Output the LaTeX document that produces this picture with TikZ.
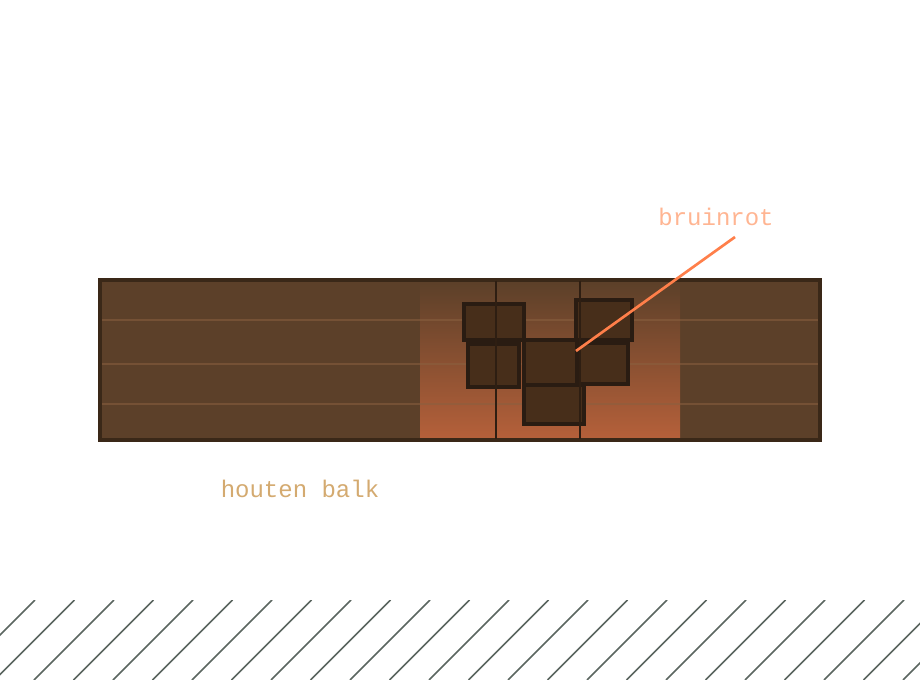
\documentclass[tikz,border=0pt]{standalone}
\usepackage{fontspec}
\setmonofont{Liberation Mono}
\definecolor{beamfill}{HTML}{5C4029}
\definecolor{beamedge}{HTML}{3A2818}
\definecolor{grain}{HTML}{8A6040}
\definecolor{rottop}{HTML}{5C4029}
\definecolor{rotbot}{HTML}{B5603A}
\definecolor{knotfill}{HTML}{472E1A}
\definecolor{knotedge}{HTML}{2A1C12}
\definecolor{crack}{HTML}{2E1E12}
\definecolor{leader}{HTML}{FF7F4A}
\definecolor{rotlabel}{HTML}{FFB592}
\definecolor{beamlabel}{HTML}{D4AA70}
\definecolor{hatch}{HTML}{5B6660}
\tikzset{
  knot/.style={draw=knotedge, fill=knotfill, line width=3pt},
  grainline/.style={draw=grain, opacity=0.55, line width=1.5pt},
  crackline/.style={draw=crack, line width=2pt},
  lbl/.style={font=\ttfamily\fontsize{18}{20}\selectfont, inner sep=0pt},
}
\begin{document}
\begin{tikzpicture}[x=0.75pt, y=-0.75pt]
\useasboundingbox (0,0) rectangle (920,680);
\fill[white] (0,0) rectangle (920,680);
% beam
\fill[beamfill] (100,280) rectangle (820,440);
% rotten zone gradient
\shade[top color=rottop, bottom color=rotbot] (420,282) rectangle (680,438);
% grain
\foreach \yy in {320,364,404} \draw[grainline] (100,\yy) -- (820,\yy);
\draw[beamedge, line width=3pt] (100,280) rectangle (820,440);
% cubes of brown rot
\draw[knot] (468,344) rectangle (519,387);
\draw[knot] (579,343) rectangle (628,384);
\draw[knot] (524,340) rectangle (577,385);
\draw[knot] (524,385) rectangle (584,424);
\draw[knot] (464,304) rectangle (524,340);
\draw[knot] (576,300) rectangle (632,340);
% cracks
\draw[crackline] (496,281) -- (496,439);
\draw[crackline] (580,281) -- (580,439);
% labels
\node[lbl, text=rotlabel] (rot) at (716,217) {bruinrot};
\coordinate (rotstart) at (735,237);
\coordinate (rotend) at (576,351);
\draw[leader, line width=2pt] (rotstart) -- (rotend);
\node[lbl, text=beamlabel] (balk) at (300,489) {houten balk};
% ground hatching
\begin{scope}
\clip (0,600) rectangle (920,680);
\foreach \k in {-1,...,25} \draw[hatch, line width=1.1pt] (35+39.5*\k,600) -- ++(-80,80);
\end{scope}
\end{tikzpicture}
\end{document}
